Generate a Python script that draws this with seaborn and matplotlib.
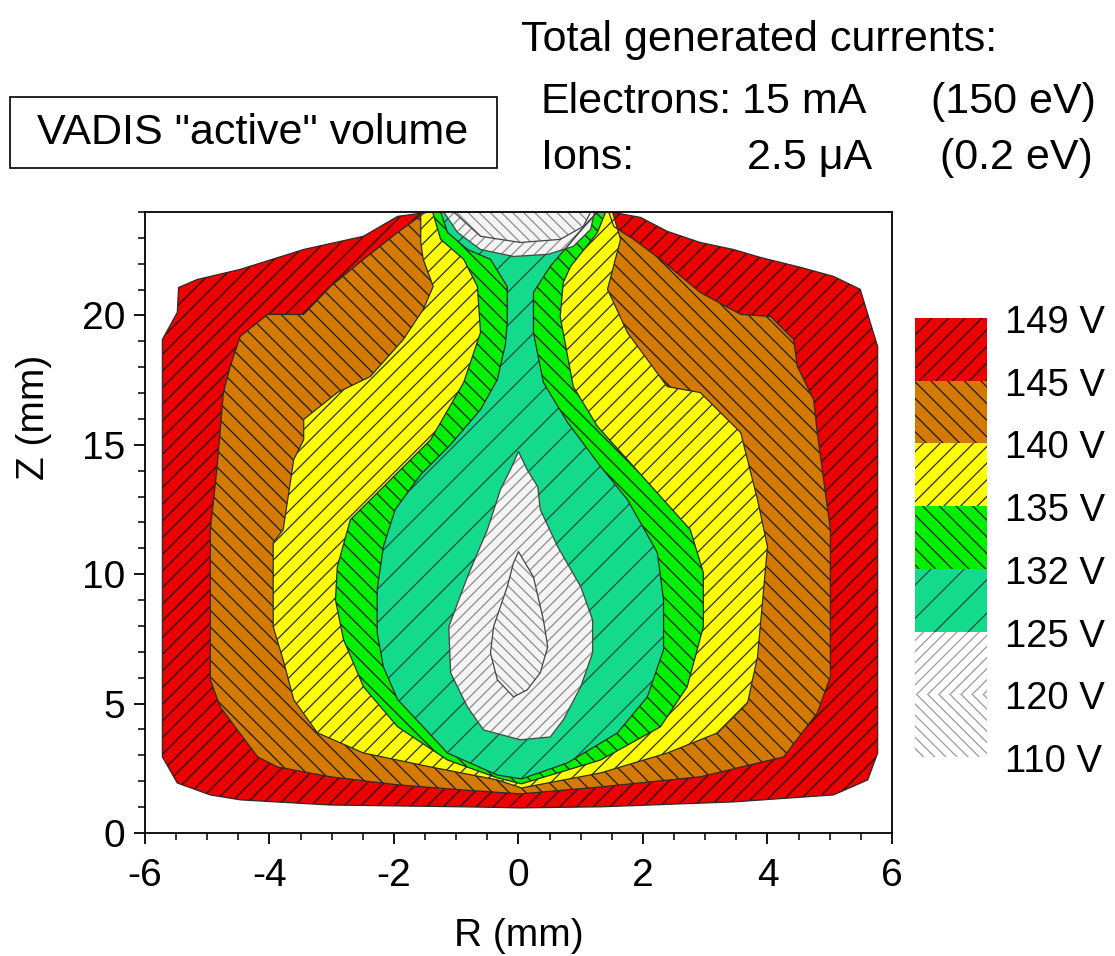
import matplotlib
matplotlib.use("Agg")
import matplotlib.pyplot as plt
from matplotlib.patches import Rectangle
from matplotlib.ticker import MultipleLocator
import seaborn as sns
import pandas as pd

# Equipotential boundaries (R, Z in mm)
r_149 = [-1.41, -1.94, -2.49, -3.45, -4.47, -5.16, -5.46, -5.48, -5.72, -5.72, -5.48, -4.95, -4.47, -3.02,
         -0.88, 0.03, 1.32, 3.45, 5.06, 5.61, 5.77, 5.77, 5.70, 5.49, 5.06, 4.53, 3.89, 3.45, 2.92, 2.39, 1.96, 1.48]
z_149 = [24.0, 23.83, 23.06, 22.55, 21.78, 21.39, 21.08, 20.12, 19.07, 2.94, 1.93, 1.47, 1.28, 1.08,
         1.01, 0.97, 1.01, 1.20, 1.47, 2.05, 3.09, 18.80, 19.34, 21.01, 21.51, 21.86, 22.24, 22.55, 22.82, 23.25, 23.79, 24.0]

r_145 = [-1.49, -1.94, -2.49, -3.02, -3.45, -4.03, -4.47, -4.63, -4.74, -4.84, -4.95, -4.95, -4.79, -4.19, -3.87, -3.02,
         -1.94, -0.88, 0.03, 1.32, 2.92, 4.26, 4.80, 5.01, 5.01, 4.80, 4.74, 4.48, 4.42, 4.05, 3.57, 2.92, 2.28, 1.85, 1.53, 1.45]
z_145 = [24.0, 23.21, 22.17, 21.12, 20.04, 20.04, 19.19, 18.03, 17.02, 14.16, 11.72, 5.92, 4.87, 2.94, 2.55, 2.17,
         1.86, 1.66, 1.51, 1.78, 2.17, 2.94, 4.64, 6.03, 11.72, 15.47, 16.75, 18.03, 19.07, 19.96, 20.04, 20.89, 22.17, 22.94, 23.44, 24.0]

r_140 = [-1.57, -1.57, -1.53, -1.37, -1.53, -1.85, -2.38, -2.91, -3.45, -3.45, -3.61, -3.78, -3.94, -3.94, -3.78, -3.61, -3.23,
         -2.49, -1.41, -0.34, 0.05, 1.32, 2.39, 3.20, 3.68, 3.84, 4.00, 3.84, 3.57, 2.92, 2.39, 1.75, 1.43, 1.64, 1.51]
z_140 = [24.0, 22.82, 22.17, 21.12, 20.23, 19.07, 17.64, 17.02, 15.98, 15.20, 14.43, 11.72, 11.22, 7.97, 6.69, 5.15, 3.87,
         3.09, 2.55, 2.05, 1.74, 2.32, 3.09, 3.87, 5.03, 6.81, 11.06, 12.88, 15.47, 17.02, 17.25, 19.34, 21.01, 22.94, 24.0]

r_135 = [-1.38, -1.25, -0.88, -0.66, -0.61, -0.88, -1.41, -1.94, -2.70, -2.91, -2.94, -2.81, -2.49, -1.94, -1.14, -0.34,
         0.05, 1.32, 2.28, 2.71, 2.97, 2.97, 2.76, 1.85, 1.27, 0.88, 0.67, 0.72, 0.84, 1.27, 1.40]
z_135 = [24.0, 22.94, 22.17, 21.12, 19.34, 17.41, 15.20, 13.93, 12.11, 10.29, 9.01, 7.47, 5.65, 4.10, 2.82, 2.13,
         1.90, 2.82, 4.10, 5.65, 7.97, 10.06, 11.72, 14.16, 15.71, 17.25, 19.96, 21.28, 21.90, 23.21, 24.0]

r_132 = [-1.25, -1.14, -0.82, -0.45, -0.18, -0.18, -0.21, -0.34, -0.61, -1.09, -1.57, -1.98, -2.17, -2.27, -2.27, -2.17,
         -1.94, -1.53, -1.14, -0.34, 0.05, 0.79, 1.59, 2.07, 2.33, 2.33, 2.23, 1.96, 1.75, 1.32, 0.79, 0.40, 0.24, 0.24,
         0.51, 0.84, 1.11, 1.27]
z_132 = [24.0, 23.21, 22.55, 22.17, 21.12, 19.73, 18.88, 17.52, 16.36, 15.01, 13.85, 12.50, 11.06, 9.40, 7.74, 6.42,
         5.15, 4.10, 3.09, 2.24, 2.09, 2.71, 3.87, 5.26, 7.08, 9.01, 10.83, 11.99, 12.88, 14.16, 15.86, 17.41, 19.34, 20.89,
         21.90, 22.82, 23.60, 24.0]

# cap at the top of the plot (above the emitter)
r_125_cap = [-1.20, -0.98, -0.61, -0.08, 0.47, 0.88, 1.16, 1.22]
z_125_cap = [24.0, 23.21, 22.55, 22.28, 22.36, 22.67, 23.33, 24.0]
r_120_cap = [-1.04, -0.61, 0.03, 0.67, 1.04, 1.16]
z_120_cap = [24.0, 23.06, 22.82, 22.94, 23.44, 24.0]

# potential well in the centre
r_125_well = [0.0, 0.14, 0.31, 0.35, 0.63, 1.0, 1.19, 1.19, 1.0, 0.72, 0.51, 0.03, -0.56, -0.82, -1.09, -1.12,
              -0.82, -0.50, -0.29, -0.13]
z_125_well = [14.74, 14.04, 13.38, 12.50, 11.06, 9.52, 8.24, 6.96, 5.65, 4.37, 3.71, 3.60, 3.98, 4.87, 6.19, 7.97,
              9.90, 11.72, 13.27, 14.04]
r_120_well = [0.0, 0.24, 0.40, 0.47, 0.35, 0.14, -0.08, -0.34, -0.45, -0.40, -0.18, -0.08]
z_120_well = [10.87, 9.90, 8.24, 7.20, 6.19, 5.53, 5.26, 5.92, 6.96, 7.97, 9.52, 10.44]

level_labels = ["149 V", "145 V", "140 V", "135 V", "132 V", "125 V", "120 V", "110 V"]
band_colors = ["#EE0000", "#D47A00", "#FFFF00", "#00F000", "#14DA8C", "#F4F4F4", "#F4F4F4"]
band_hatches = ["//", "\\\\", "//", "\\\\", "/", "///", "\\\\\\"]
hatch_colors = ["#1a1a1a", "#1a1a1a", "#2a2a2a", "#1a1a1a", "#1f4d3a", "#8c8c8c", "#8c8c8c"]

Z_TOP = 24.0

sns.set_theme(style="ticks")
plt.rcParams["font.family"] = ["Liberation Sans", "DejaVu Sans"]
plt.rcParams["axes.unicode_minus"] = False
plt.rcParams["hatch.linewidth"] = 0.9
plt.rcParams["text.color"] = "black"
plt.rcParams["axes.labelcolor"] = "black"

fig = plt.figure(figsize=(11.15, 9.56), dpi=100)
ax = fig.add_axes([0.130, 0.1287, 0.670, 0.6496])

layers = [
    (r_149, z_149, 0), (r_145, z_145, 1), (r_140, z_140, 2), (r_135, z_135, 3), (r_132, z_132, 4),
    (r_125_cap, z_125_cap, 5), (r_120_cap, z_120_cap, 6),
    (r_125_well, z_125_well, 5), (r_120_well, z_120_well, 6),
]

for r, z, band in layers:
    ax.fill(r, z, facecolor=band_colors[band], hatch=band_hatches[band],
            edgecolor=hatch_colors[band], linewidth=0, zorder=1)
    # contour line, open along the top edge of the plot
    closed = z[0] < Z_TOP
    outline = pd.DataFrame({"R": r + ([r[0]] if closed else []),
                            "Z": z + ([z[0]] if closed else [])})
    sns.lineplot(data=outline, x="R", y="Z", sort=False, estimator=None, ax=ax,
                 color="#444444" if band >= 5 else "#2b2b2b", lw=0.9, zorder=2)

ax.set_xlim(-6, 6)
ax.set_ylim(0, Z_TOP)
ax.xaxis.set_major_locator(MultipleLocator(2))
ax.xaxis.set_minor_locator(MultipleLocator(0.5))
ax.yaxis.set_major_locator(MultipleLocator(5))
ax.yaxis.set_minor_locator(MultipleLocator(1))
ax.tick_params(which="major", direction="out", length=8, width=1.3, labelsize=28, colors="black")
ax.tick_params(which="minor", direction="out", length=5, width=1.1, colors="black")
ax.tick_params(axis="x", which="major", pad=10)
ax.tick_params(axis="y", which="major", pad=6)
for sp in ax.spines.values():
    sp.set_color("black")
    sp.set_linewidth(1.3)

ax.set_xlabel("R (mm)", fontsize=28)
ax.set_ylabel("Z (mm)", fontsize=28)
ax.xaxis.set_label_coords(0.5, -0.137)
ax.yaxis.set_label_coords(-0.125, 0.67)

# legend as a stack of hatched blocks
lax = fig.add_axes([915 / 1115, 1 - 757 / 956, 72 / 1115, 439 / 956])
for i in range(len(band_colors)):
    lax.bar(0.5, 1, bottom=i, width=1, color=band_colors[i] if i < 5 else "white",
            hatch=band_hatches[i], edgecolor=hatch_colors[i] if i < 5 else "#9a9a9a", linewidth=0)
lax.set_xlim(0, 1)
lax.set_ylim(len(band_colors), 0)
lax.axis("off")
for i, lab in enumerate(level_labels):
    lax.text(1.25, i + 0.08, lab, fontsize=27.5, va="center", ha="left", transform=lax.transData)

# header annotations
fig.patches.append(Rectangle((10 / 1115, 1 - 168 / 956), 487 / 1115, 71 / 956, transform=fig.transFigure,
                             facecolor="white", edgecolor="black", linewidth=1.2))
fig.text(253 / 1115, 1 - 133 / 956, 'VADIS "active" volume', fontsize=31, ha="center", va="center")
fig.text(521 / 1115, 1 - 40 / 956, "Total generated currents:", fontsize=31, ha="left", va="center")
fig.text(541 / 1115, 1 - 102 / 956, "Electrons:", fontsize=31, ha="left", va="center")
fig.text(866 / 1115, 1 - 102 / 956, "15 mA", fontsize=31, ha="right", va="center")
fig.text(1096 / 1115, 1 - 102 / 956, "(150 eV)", fontsize=31, ha="right", va="center")
fig.text(541 / 1115, 1 - 158 / 956, "Ions:", fontsize=31, ha="left", va="center")
fig.text(872 / 1115, 1 - 158 / 956, "2.5 \u03bcA", fontsize=31, ha="right", va="center")
fig.text(1093 / 1115, 1 - 158 / 956, "(0.2 eV)", fontsize=31, ha="right", va="center")

fig.savefig("out.png", dpi=100)
